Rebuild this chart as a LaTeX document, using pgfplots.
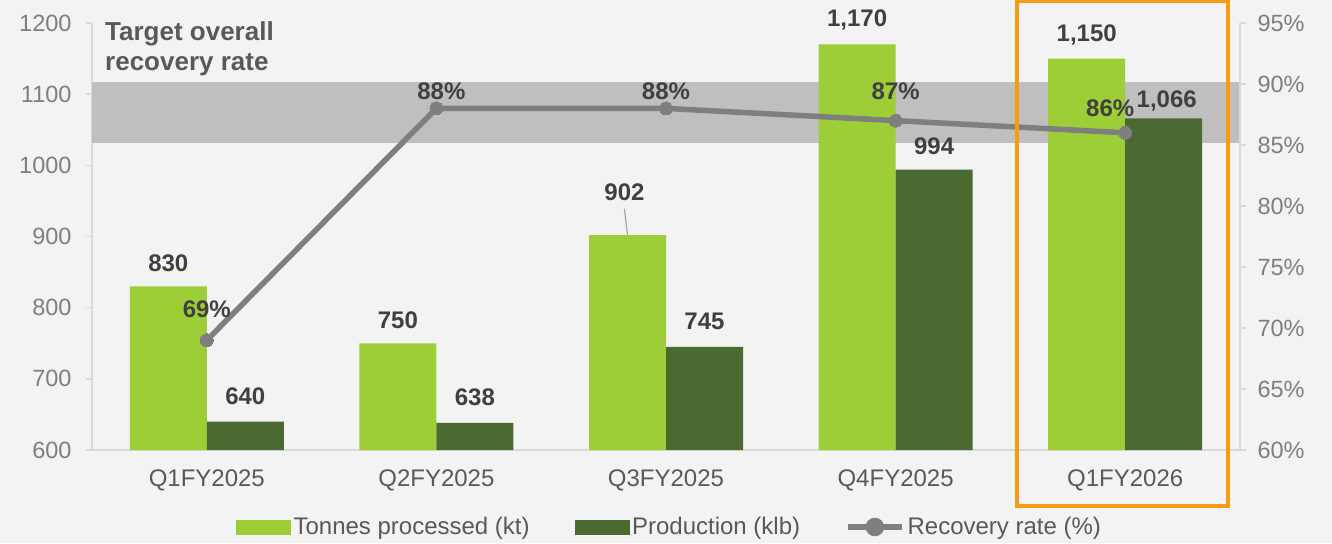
\documentclass[border=0pt]{standalone}
\usepackage{fontspec}
\setmainfont{Liberation Sans}
\usepackage{pgfplots}
\usepackage{pgfplotstable}
\pgfplotsset{compat=1.18}
\definecolor{bgc}{HTML}{F3F3F3}
\definecolor{lightg}{HTML}{9DCE37}
\definecolor{darkg}{HTML}{4A6A32}
\definecolor{linegray}{HTML}{7F7F7F}
\definecolor{bandgray}{HTML}{BFBFBF}
\definecolor{axgray}{HTML}{D9D9D9}
\definecolor{ticktext}{HTML}{7F7F7F}
\definecolor{cattext}{HTML}{595959}
\definecolor{labtext}{HTML}{404040}
\definecolor{orangebox}{HTML}{F59B14}

\pgfplotstableread{
x tonnes tdx tdy prod pdx pdy rate rdx rdy
0 830  -38.5 23 640  38.5 25 69  0 31
1 750  -38.5 23 638  38.5 26 88  5 17
2 902  -41.5 43 745  38.5 25 88  0 17
3 1170 -38.5 24 994  38.5 23 87  0 29
4 1150 -38.5 24 1066 41.5 17 86 -15 25
}\data

\pgfplotsset{
  base/.style={scale only axis, width=1148pt, height=427pt,
    xmin=-0.5, xmax=4.5, at={(0,0)}, anchor=south west, clip=false,
    /pgf/number format/assume math mode=true,
    /pgf/number format/1000 sep={},
    tick label style={font=\fontsize{23.5}{28}\selectfont, text=ticktext},
    axis line style={draw=axgray, line width=1.5pt, -},
    major tick style={draw=axgray, line width=1.5pt},
    tick align=outside, major tick length=6pt,
  },
}
\tikzset{barlab/.style={font=\fontsize{24}{28}\selectfont\bfseries, text=labtext, anchor=center, inner sep=0pt}}

\begin{document}
\begin{tikzpicture}
\path[use as bounding box, fill=bgc] (-92pt,-93pt) rectangle (1240pt,450pt);
% left axis with bars
\begin{axis}[base,
  ymin=600, ymax=1200, ytick={600,700,...,1200},
  axis x line*=bottom, axis y line*=left,
  xtick={0,1,2,3,4},
  xticklabels={Q1FY2025,Q2FY2025,Q3FY2025,Q4FY2025,Q1FY2026},
  x tick style={draw=none},
  x tick label style={font=\fontsize{24}{28}\selectfont, text=cattext, anchor=base, yshift=-30pt},
  y tick label style={anchor=east, xshift=-11pt},
]
\addplot[fill=bandgray, draw=none, forget plot] coordinates {(-0.5,1032) (4.5,1032) (4.5,1117.5) (-0.5,1117.5)} -- cycle;
\addplot[ybar, bar width=77pt, bar shift=-38.5pt, fill=lightg, draw=none,
  point meta=y,
  visualization depends on={\thisrow{tdx} \as \ldx},
  visualization depends on={\thisrow{tdy} \as \ldy},
  nodes near coords={\pgfmathprintnumber[1000 sep={,}]{\pgfplotspointmeta}},
  every node near coord/.append style={barlab, xshift=\ldx pt, yshift=\ldy pt},
] table[x=x, y=tonnes] {\data};
\addplot[ybar, bar width=77pt, bar shift=38.5pt, fill=darkg, draw=none,
  point meta=y,
  visualization depends on={\thisrow{pdx} \as \ldx},
  visualization depends on={\thisrow{pdy} \as \ldy},
  nodes near coords={\pgfmathprintnumber[1000 sep={,}]{\pgfplotspointmeta}},
  every node near coord/.append style={barlab, xshift=\ldx pt, yshift=\ldy pt},
] table[x=x, y=prod] {\data};
\draw[gray!70, line width=1.2pt] (axis cs:1.8323,902) -- ([xshift=-3pt, yshift=26pt]axis cs:1.8323,902);
\node[anchor=north west, align=left, inner sep=0pt, xshift=13pt, yshift=1.5pt,
  font=\fontsize{26}{30}\selectfont\bfseries, text=cattext] at (rel axis cs:0,1) {Target overall\\recovery rate};
\end{axis}
% right axis with line
\begin{axis}[base,
  ymin=60, ymax=95, ytick={60,65,...,95},
  yticklabel={\pgfmathprintnumber{\tick}\%},
  axis x line=none, axis y line*=right,
  y tick label style={anchor=west, xshift=8pt},
  legend columns=3,
  legend style={at={(0.1254,-0.1803)}, anchor=west, draw=none, fill=none,
    inner sep=0pt, font=\fontsize{24}{28}\selectfont, text=cattext,
    nodes={inner sep=0pt},
    /tikz/every odd column/.append style={column sep=3pt},
    /tikz/every even column/.append style={column sep=45pt}},
]
\addlegendimage{legend image code/.code={\fill[lightg] (0pt,-7pt) rectangle (54pt,7pt);}}
\addlegendentry{Tonnes processed (kt)}
\addlegendimage{legend image code/.code={\fill[darkg] (0pt,-7pt) rectangle (54pt,7pt);}}
\addlegendentry{Production (klb)}
\addplot[linegray, line width=5.5pt, mark=*, mark size=6.5pt,
  mark options={fill=linegray, draw=linegray, line width=0pt},
  point meta=explicit,
  visualization depends on={\thisrow{rdx} \as \ldx},
  visualization depends on={\thisrow{rdy} \as \ldy},
  nodes near coords={\pgfmathprintnumber{\pgfplotspointmeta}\%},
  every node near coord/.append style={barlab, xshift=\ldx pt, yshift=\ldy pt},
  legend image code/.code={\draw[linegray, line width=5.5pt] (0pt,0pt) -- (54pt,0pt); \fill[linegray] (27pt,0pt) circle (6.5pt);},
] table[x=x, y=rate, meta=rate] {\data};
\addlegendentry{Recovery rate (\%)}
\draw[orangebox, line width=4pt] (axis cs:3.5274,55.41) rectangle (axis cs:4.4477,96.8);
\end{axis}
\end{tikzpicture}
\end{document}
